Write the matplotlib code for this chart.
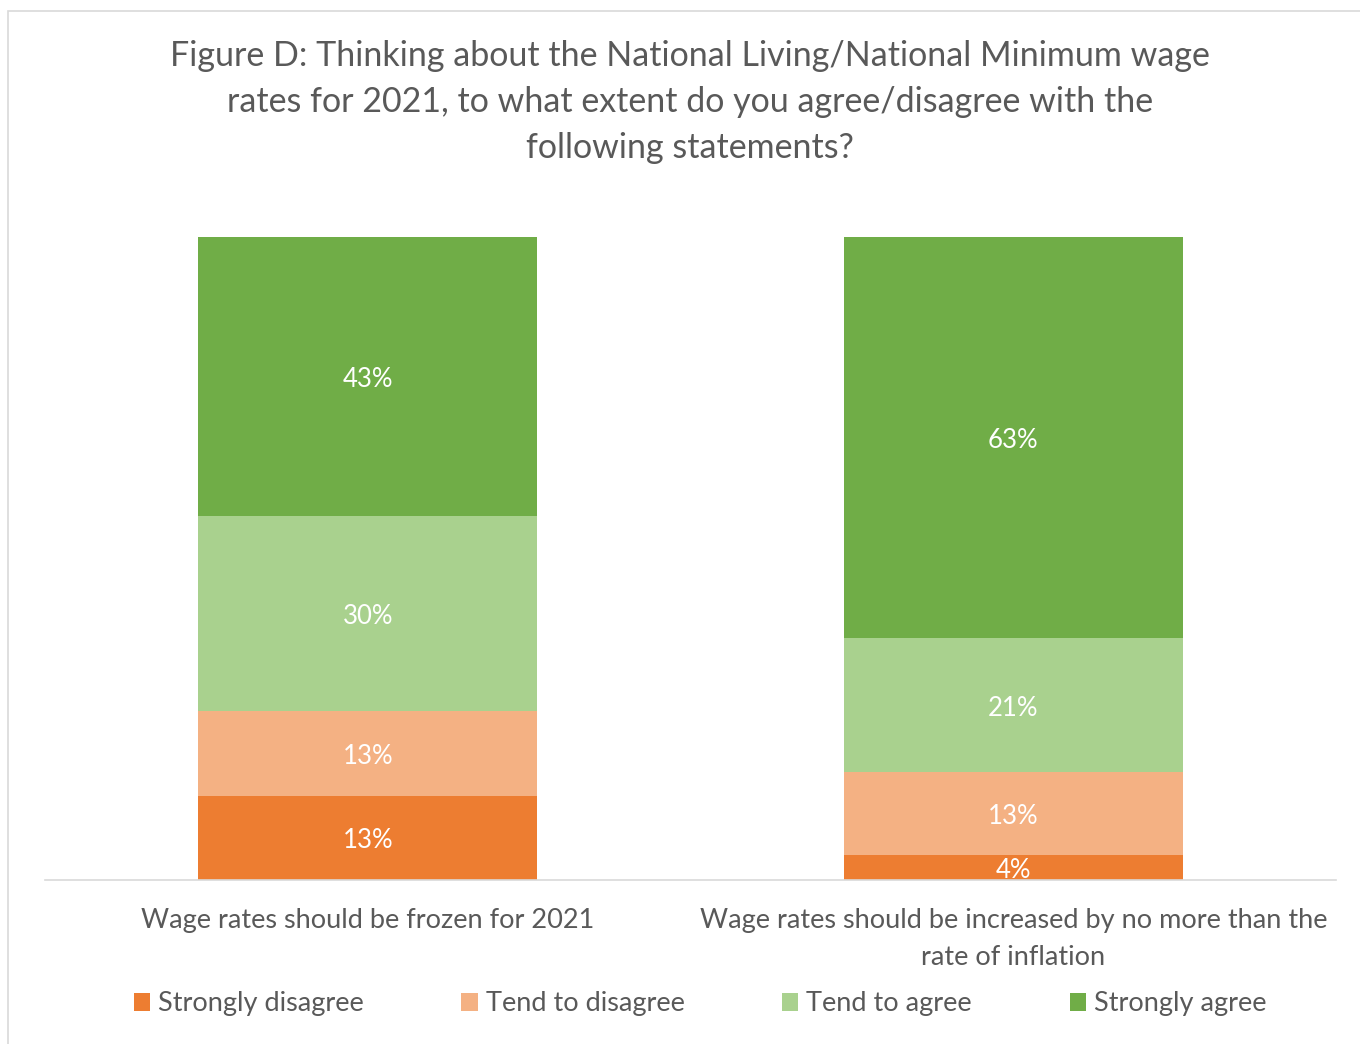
import matplotlib
matplotlib.use("Agg")
import matplotlib.pyplot as plt
import numpy as np
from matplotlib.patches import Patch, Rectangle

plt.rcParams["font.family"] = ["Lato", "DejaVu Sans"]

TITLE = ("Figure D: Thinking about the National Living/National Minimum wage\n"
         "rates for 2021, to what extent do you agree/disagree with the\n"
         "following statements?")
categories = [
    "Wage rates should be frozen for 2021",
    "Wage rates should be increased by no more than the\nrate of inflation",
]
series_names = ["Strongly disagree", "Tend to disagree", "Tend to agree", "Strongly agree"]
strongly_disagree = [13, 4]
tend_to_disagree = [13, 13]
tend_to_agree = [30, 21]
strongly_agree = [43, 63]

COLORS = ["#ED7D31", "#F4B183", "#A9D18E", "#70AD47"]
TEXT = "#595959"


def main():
    fig = plt.figure(figsize=(13.6, 10.44), dpi=100)
    W, H = 1360, 1044

    # chart area border, runs off the right and bottom edges
    fig.patches.append(Rectangle((8 / W, -0.05), 1.2, 1 - 11 / H + 0.05,
                                 transform=fig.transFigure, fill=False,
                                 edgecolor="#D9D9D9", linewidth=1.2))

    ax = fig.add_axes([45 / W, (H - 880) / H, 1291 / W, 643 / H])
    values = np.array([strongly_disagree, tend_to_disagree, tend_to_agree, strongly_agree], dtype=float)
    shares = values / values.sum(axis=0) * 100  # 100% stacked
    x = np.arange(len(categories))
    bottom = np.zeros(len(categories))
    for name, raw, share, color in zip(series_names, values, shares, COLORS):
        bars = ax.bar(x, share, 0.525, bottom=bottom, color=color, label=name)
        for rect, v in zip(bars, raw):
            ax.text(rect.get_x() + rect.get_width() / 2, rect.get_y() + rect.get_height() / 2 - 0.5,
                    f"{v:.0f}%", ha="center", va="center", color="white", fontsize=18.5)
        bottom += share

    ax.set_xlim(-0.5, 1.5)
    ax.set_ylim(0, 100)
    ax.set_yticks([])
    ax.set_xticks(x)
    ax.set_xticklabels(categories, fontsize=19.5, color=TEXT, linespacing=1.6)
    ax.tick_params(axis="x", length=0, pad=20.5)
    for side in ["top", "right", "left"]:
        ax.spines[side].set_visible(False)
    ax.spines["bottom"].set_color("#D9D9D9")
    ax.spines["bottom"].set_linewidth(1.2)

    fig.text(690 / W, 1 - 102 / H, TITLE, ha="center", va="center", fontsize=24.5,
             color=TEXT, linespacing=1.55)

    handles = [Patch(facecolor=c, label=n) for c, n in zip(COLORS, series_names)]
    fig.legend(handles=handles, loc="center", bbox_to_anchor=(700 / W, 1 - 1004 / H),
               ncol=4, frameon=False, fontsize=19.5, labelcolor=TEXT,
               handlelength=0.6, handleheight=0.6, handletextpad=0.3, columnspacing=3.6)

    fig.savefig("out.png", dpi=100)
    plt.close(fig)


if __name__ == "__main__":
    main()
